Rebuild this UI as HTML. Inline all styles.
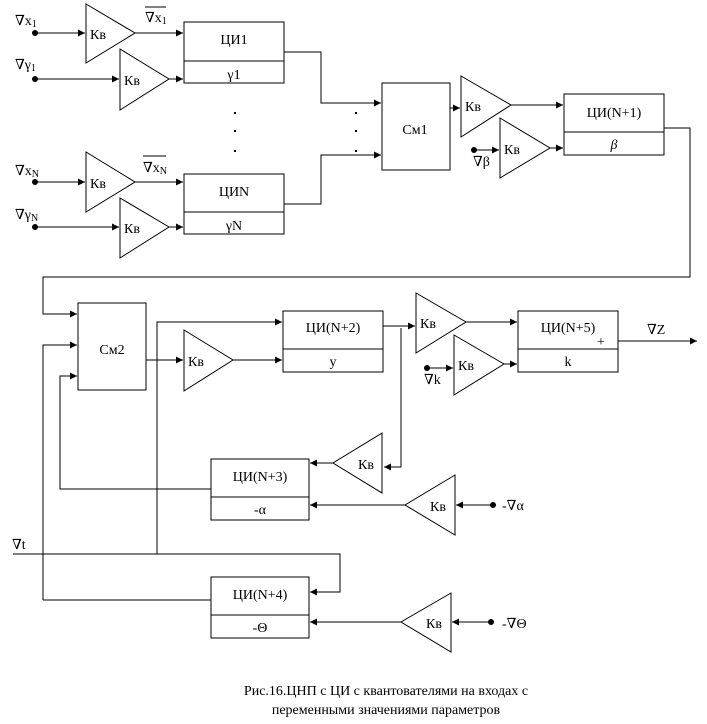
<!DOCTYPE html>
<html><head><meta charset="utf-8"><style>
html,body{margin:0;padding:0;background:#fff}
svg{display:block}
text{font-family:"Liberation Serif","DejaVu Serif",serif;font-size:14px;fill:#000}
.c{text-anchor:middle}
</style></head><body>
<svg width="707" height="724" viewBox="0 0 707 724" xmlns="http://www.w3.org/2000/svg">
<defs><marker id="a" markerWidth="8" markerHeight="8" refX="7" refY="4" orient="auto" markerUnits="userSpaceOnUse"><path d="M0,0.5 L7,4 L0,7.5z" fill="#000"/></marker></defs>
<g stroke="#000" stroke-width="1" fill="none">
<!-- top inputs -->
<line x1="35" y1="33" x2="85" y2="33" marker-end="url(#a)"/>
<line x1="35" y1="79" x2="119" y2="79" marker-end="url(#a)"/>
<line x1="35" y1="182" x2="85" y2="182" marker-end="url(#a)"/>
<line x1="35" y1="227" x2="119" y2="227" marker-end="url(#a)"/>
<polygon points="86,4 135,33 86,63" fill="#fff"/>
<polygon points="120,49 169,79 120,110" fill="#fff"/>
<polygon points="86,152 135,182 86,212" fill="#fff"/>
<polygon points="120,198 169,227 120,258" fill="#fff"/>
<line x1="135" y1="33" x2="183" y2="33" marker-end="url(#a)"/>
<line x1="169" y1="79" x2="183" y2="79" marker-end="url(#a)"/>
<line x1="135" y1="182" x2="183" y2="182" marker-end="url(#a)"/>
<line x1="169" y1="227" x2="183" y2="227" marker-end="url(#a)"/>
<rect x="184" y="22" width="100" height="61"/><line x1="184" y1="61" x2="284" y2="61"/>
<rect x="184" y="174" width="100" height="60"/><line x1="184" y1="212" x2="284" y2="212"/>
<polyline points="284,52 321,52 321,103 381,103" marker-end="url(#a)"/>
<polyline points="284,204 321,204 321,155 381,155" marker-end="url(#a)"/>
<rect x="382" y="83" width="68" height="87"/>
<line x1="450" y1="108" x2="460" y2="108" marker-end="url(#a)"/>
<polygon points="461,76 511,105 461,137" fill="#fff"/>
<line x1="511" y1="105" x2="563" y2="105" marker-end="url(#a)"/>
<line x1="474" y1="150" x2="499" y2="150" marker-end="url(#a)"/>
<polygon points="500,118 550,148 500,178" fill="#fff"/>
<line x1="550" y1="148" x2="563" y2="148" marker-end="url(#a)"/>
<rect x="564" y="94" width="100" height="61"/><line x1="564" y1="132" x2="664" y2="132"/>
<polyline points="664,128 690,128 690,277 43,277 43,314 77,314" marker-end="url(#a)"/>
<!-- lower -->
<rect x="78" y="303" width="68" height="87"/>
<polyline points="43,600 43,345 77,345" marker-end="url(#a)"/>
<polyline points="211,600 43,600"/>
<polyline points="211,489 60,489 60,376 77,376" marker-end="url(#a)"/>
<line x1="146" y1="360" x2="183" y2="360" marker-end="url(#a)"/>
<polygon points="184,330 233,360 184,391" fill="#fff"/>
<line x1="233" y1="360" x2="282" y2="360" marker-end="url(#a)"/>
<polyline points="157,554 157,322 282,322" marker-end="url(#a)"/>
<rect x="283" y="311" width="100" height="61"/><line x1="283" y1="349" x2="383" y2="349"/>
<line x1="383" y1="326" x2="415" y2="326" marker-end="url(#a)"/>
<polyline points="401,328 401,467 384,467" marker-end="url(#a)"/>
<polygon points="416,293 466,322 416,353" fill="#fff"/>
<line x1="466" y1="322" x2="517" y2="322" marker-end="url(#a)"/>
<line x1="427" y1="368" x2="453" y2="368" marker-end="url(#a)"/>
<polygon points="454,335 504,364 454,395" fill="#fff"/>
<line x1="504" y1="364" x2="517" y2="364" marker-end="url(#a)"/>
<rect x="518" y="311" width="100" height="61"/><line x1="518" y1="349" x2="618" y2="349"/>
<line x1="618" y1="341" x2="697" y2="341" marker-end="url(#a)"/>
<polygon points="382,433 333,463 382,493" fill="#fff"/>
<line x1="333" y1="463" x2="310" y2="463" marker-end="url(#a)"/>
<rect x="211" y="459" width="98" height="61"/><line x1="211" y1="497" x2="309" y2="497"/>
<polygon points="455,475 405,505 455,535" fill="#fff"/>
<line x1="405" y1="505" x2="310" y2="505" marker-end="url(#a)"/>
<line x1="493" y1="505" x2="456" y2="505" marker-end="url(#a)"/>
<polyline points="13,554 340,554 340,592 310,592" marker-end="url(#a)"/>
<rect x="211" y="577" width="98" height="61"/><line x1="211" y1="615" x2="309" y2="615"/>
<polygon points="451,593 401,622 451,652" fill="#fff"/>
<line x1="401" y1="622" x2="310" y2="622" marker-end="url(#a)"/>
<line x1="491" y1="622" x2="452" y2="622" marker-end="url(#a)"/>
<line x1="145" y1="7" x2="166" y2="7"/>
<line x1="143" y1="156" x2="166" y2="156"/>
</g>
<g fill="#000">
<circle cx="35" cy="33" r="3"/><circle cx="35" cy="79" r="3"/><circle cx="35" cy="182" r="3"/><circle cx="35" cy="227" r="3"/>
<circle cx="474" cy="150" r="3"/><circle cx="427" cy="368" r="3"/><circle cx="493" cy="505" r="3"/><circle cx="491" cy="622" r="3"/>
<rect x="234" y="112" width="2" height="2"/><rect x="234" y="130" width="2" height="2"/><rect x="234" y="150" width="2" height="2"/>
<rect x="355" y="112" width="2" height="2"/><rect x="355" y="130" width="2" height="2"/><rect x="355" y="150" width="2" height="2"/>
</g>
<text x="15" y="25">∇x<tspan font-size="10" dy="2">1</tspan></text>
<text x="15" y="69">∇γ<tspan font-size="10" dy="2">1</tspan></text>
<text x="15" y="175">∇x<tspan font-size="10" dy="2">N</tspan></text>
<text x="15" y="219">∇γ<tspan font-size="10" dy="2">N</tspan></text>
<text x="145" y="22">∇x<tspan font-size="10" dy="2">1</tspan></text>
<text x="143" y="172">∇x<tspan font-size="10" dy="2">N</tspan></text>
<text x="90" y="39">Кв</text><text x="124" y="85">Кв</text><text x="90" y="188">Кв</text><text x="124" y="233">Кв</text>
<text x="234" y="44" class="c">ЦИ1</text><text x="234" y="79" class="c" font-size="11">γ1</text>
<text x="234" y="196" class="c">ЦИN</text><text x="234" y="230" class="c" font-size="11">γN</text>
<text x="415" y="134" class="c">См1</text>
<text x="465" y="111">Кв</text><text x="504" y="154">Кв</text>
<text x="473" y="166">∇β</text>
<text x="614" y="117" class="c">ЦИ(N+1)</text><text x="614" y="149" class="c" font-style="italic">β</text>
<text x="112" y="354" class="c">См2</text>
<text x="188" y="366">Кв</text>
<text x="333" y="332" class="c">ЦИ(N+2)</text><text x="333" y="366" class="c">y</text>
<text x="420" y="328">Кв</text><text x="458" y="370">Кв</text>
<text x="424" y="384">∇k</text>
<text x="568" y="332" class="c">ЦИ(N+5)</text><text x="568" y="366" class="c">k</text>
<text x="597" y="346" font-size="13">+</text>
<text x="647" y="334">∇Z</text>
<text x="358" y="469">Кв</text>
<text x="260" y="481" class="c">ЦИ(N+3)</text><text x="260" y="514" class="c" font-size="12">-α</text>
<text x="430" y="511">Кв</text>
<text x="502" y="510">-∇α</text>
<text x="12" y="549">∇t</text>
<text x="260" y="599" class="c">ЦИ(N+4)</text><text x="260" y="632" class="c" font-size="12">-Θ</text>
<text x="426" y="628">Кв</text>
<text x="502" y="628">-∇Θ</text>
<text x="386" y="695" class="c" font-size="13">Рис.16.ЦНП с ЦИ с квантователями на входах с</text>
<text x="386" y="714" class="c" font-size="13">переменными значениями параметров</text>
</svg>
</body></html>
